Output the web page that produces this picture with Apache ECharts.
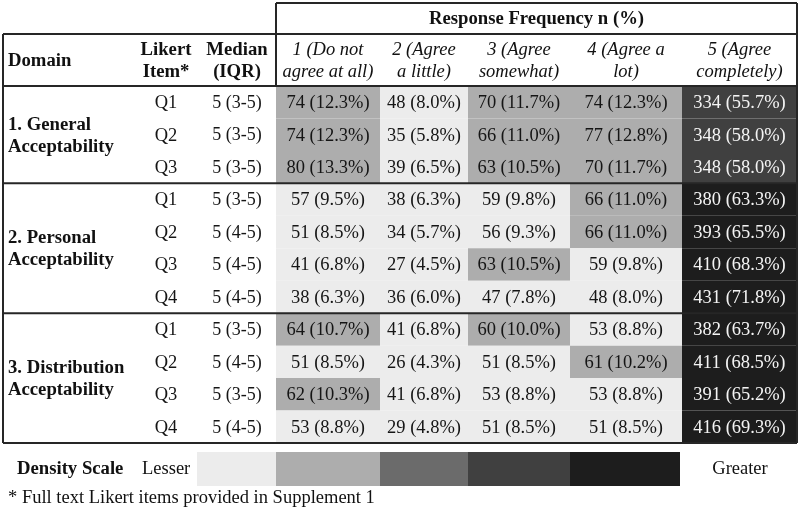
<!DOCTYPE html>
<html>
<head>
<meta charset="utf-8">
<script src="https://cdn.jsdelivr.net/npm/echarts@6/dist/echarts.min.js"></script>
<style>
  html, body { margin: 0; padding: 0; background: #fff; }
  #main { width: 800px; height: 516px; }
</style>
</head>
<body>
<div id="main"></div>
<script>
var responses = ['1 (Do not\nagree at all)', '2 (Agree\na little)', '3 (Agree\nsomewhat)', '4 (Agree a\nlot)', '5 (Agree\ncompletely)'];
var domains = ['1. General\nAcceptability', '2. Personal\nAcceptability', '3. Distribution\nAcceptability'];
var domainRows = [3, 4, 4];
var items = ['Q1', 'Q2', 'Q3', 'Q1', 'Q2', 'Q3', 'Q4', 'Q1', 'Q2', 'Q3', 'Q4'];
var medians = ['5 (3-5)', '5 (3-5)', '5 (3-5)', '5 (3-5)', '5 (4-5)', '5 (4-5)', '5 (4-5)', '5 (3-5)', '5 (4-5)', '5 (3-5)', '5 (4-5)'];
var counts = [
    [74, 48, 70, 74, 334],
    [74, 35, 66, 77, 348],
    [80, 39, 63, 70, 348],
    [57, 38, 59, 66, 380],
    [51, 34, 56, 66, 393],
    [41, 27, 63, 59, 410],
    [38, 36, 47, 48, 431],
    [64, 41, 60, 53, 382],
    [51, 26, 51, 61, 411],
    [62, 41, 53, 53, 391],
    [53, 29, 51, 51, 416]
];
var percents = [
    [12.3, 8.0, 11.7, 12.3, 55.7],
    [12.3, 5.8, 11.0, 12.8, 58.0],
    [13.3, 6.5, 10.5, 11.7, 58.0],
    [9.5, 6.3, 9.8, 11.0, 63.3],
    [8.5, 5.7, 9.3, 11.0, 65.5],
    [6.8, 4.5, 10.5, 9.8, 68.3],
    [6.3, 6.0, 7.8, 8.0, 71.8],
    [10.7, 6.8, 10.0, 8.8, 63.7],
    [8.5, 4.3, 8.5, 10.2, 68.5],
    [10.3, 6.8, 8.8, 8.8, 65.2],
    [8.8, 4.8, 8.5, 8.5, 69.3]
];
var densityBreaks = [10, 30, 50, 60];

// ---- layout / style ----
var shades = ['#ececec', '#adadad', '#6b6b6b', '#404040', '#1d1d1d'];
var colEdges = [0, 104, 192, 294, 406, 521];   // response columns, in px from x=276
var legendEdges = [197, 276, 380, 468, 570, 680];
var serif = 'Liberation Serif';
var line = '#262626';
var X0 = 276;
var REG = '18.5px "' + serif + '"';
var BOLD = 'bold 18.7px "' + serif + '"';

var cellData = [];
counts.forEach(function (row, r) {
    row.forEach(function (n, c) {
        cellData.push([c, r, n, percents[r][c]]);
    });
});

var domainData = [];
var start = 0;
domainRows.forEach(function (k, i) {
    domainData.push([start, k, i]);
    start += k;
});

var graphic = [];
function hline(x1, x2, y) {
    graphic.push({type: 'line', shape: {x1: x1, y1: y, x2: x2, y2: y}, style: {stroke: line, lineWidth: 2}, z: 100});
}
function vline(x, y1, y2) {
    graphic.push({type: 'line', shape: {x1: x, y1: y1, x2: x, y2: y2}, style: {stroke: line, lineWidth: 2}, z: 100});
}
function label(x, y, text, font, align) {
    graphic.push({
        type: 'text', x: x, y: y, z: 101,
        style: {text: text, font: font, fill: '#111', align: align || 'center', verticalAlign: 'middle', lineHeight: 22}
    });
}

// frame
hline(X0, 797, 3);
vline(X0, 3, 86);
vline(797, 3, 443);
vline(3, 34, 443);
hline(3, 797, 34);
hline(3, 797, 86);
hline(3, 797, 443);

// headers
label((X0 + 797) / 2, 19, 'Response Frequency n (%)', BOLD);
label(8, 61, 'Domain', BOLD, 'left');
label(166, 61, 'Likert\nItem*', BOLD);
label(237, 61, 'Median\n(IQR)', BOLD);
responses.forEach(function (t, i) {
    label(X0 + (colEdges[i] + colEdges[i + 1]) / 2, 61, t, 'italic 18.5px "' + serif + '"');
});

// density scale legend
label(17, 469, 'Density Scale', BOLD, 'left');
label(142, 469, 'Lesser', REG, 'left');
label(740, 469, 'Greater', REG);
shades.forEach(function (s, i) {
    graphic.push({
        type: 'rect',
        shape: {x: legendEdges[i], y: 452, width: legendEdges[i + 1] - legendEdges[i], height: 34},
        style: {fill: s}
    });
});
label(8, 498, '* Full text Likert items provided in Supplement 1', REG, 'left');

var pieces = [];
var lo = 0;
densityBreaks.concat([1000]).forEach(function (b, i) {
    pieces.push({gte: lo, lt: b, color: shades[i]});
    lo = b;
});

var myChart = echarts.init(document.getElementById('main'));
myChart.setOption({
    animation: false,
    backgroundColor: '#fff',
    grid: {left: 3, right: 3, top: 86, bottom: 73},
    xAxis: {type: 'value', min: -273, max: 521, show: false},
    yAxis: {type: 'value', min: 0, max: 11, inverse: true, show: false},
    visualMap: {
        show: false,
        type: 'piecewise',
        seriesIndex: 0,
        dimension: 3,
        pieces: pieces
    },
    graphic: graphic,
    series: [
        {
            name: 'cells',
            type: 'custom',
            data: cellData,
            encode: {x: 0, y: 1},
            renderItem: function (params, api) {
                var c = api.value(0), r = api.value(1);
                var p0 = api.coord([colEdges[c], r]);
                var p1 = api.coord([colEdges[c + 1], r + 1]);
                var pct = api.value(3);
                return {
                    type: 'group',
                    children: [{
                        type: 'rect',
                        shape: {x: p0[0], y: p0[1], width: p1[0] - p0[0], height: p1[1] - p0[1]},
                        style: {fill: api.visual('color')}
                    }, {
                        type: 'text',
                        x: (p0[0] + p1[0]) / 2,
                        y: (p0[1] + p1[1]) / 2 + 1,
                        style: {
                            text: api.value(2) + ' (' + pct.toFixed(1) + '%)',
                            font: REG,
                            fill: pct >= 50 ? '#f4f4f4' : '#151515',
                            align: 'center',
                            verticalAlign: 'middle'
                        }
                    }]
                };
            }
        },
        {
            name: 'items',
            type: 'custom',
            data: items.map(function (q, i) { return [0, i]; }),
            encode: {x: 0, y: 1},
            renderItem: function (params, api) {
                var r = api.value(1);
                var pq = api.coord([-110, r + 0.5]);
                var pm = api.coord([-39, r + 0.5]);
                return {
                    type: 'group',
                    children: [{
                        type: 'text', x: pq[0], y: pq[1] + 1,
                        style: {text: items[r], font: REG, fill: '#151515', align: 'center', verticalAlign: 'middle'}
                    }, {
                        type: 'text', x: pm[0], y: pm[1] + 1,
                        style: {text: medians[r], font: '18px "' + serif + '"', fill: '#151515', align: 'center', verticalAlign: 'middle'}
                    }]
                };
            }
        },
        {
            name: 'domains',
            type: 'custom',
            data: domainData,
            encode: {x: 2, y: 0},
            renderItem: function (params, api) {
                var s = api.value(0), k = api.value(1), d = api.value(2);
                var p = api.coord([-268, s + k / 2]);
                var pl = api.coord([-273, s + k]);
                var pr = api.coord([521, s + k]);
                var children = [{
                    type: 'text', x: p[0], y: p[1] + 1,
                    style: {text: domains[d], font: BOLD, fill: '#111', align: 'left', verticalAlign: 'middle', lineHeight: 22}
                }];
                if (d < domains.length - 1) {
                    children.push({
                        type: 'line', z2: 10,
                        shape: {x1: pl[0], y1: pl[1], x2: pr[0], y2: pr[1]},
                        style: {stroke: line, lineWidth: 2}
                    });
                }
                return {type: 'group', children: children};
            }
        }
    ]
});
</script>
</body>
</html>
